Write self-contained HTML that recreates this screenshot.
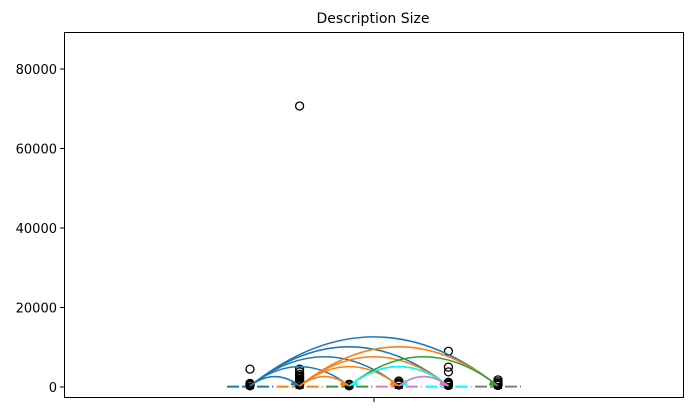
<!DOCTYPE html>
<html><head><meta charset="utf-8"><style>
body{margin:0;background:#fff;font-family:"DejaVu Sans","Liberation Sans",sans-serif}
</style></head><body>
<svg id="c" width="693" height="416" xmlns="http://www.w3.org/2000/svg">
<text x="373" y="23" text-anchor="middle" font-size="14" fill="#000">Description Size</text>
<g id="g"></g>
<rect x="64.5" y="32.5" width="619" height="365" fill="none" stroke="#000" stroke-width="1"/>
</svg>
<script>
const categories=["A","B","C","D","E","F"];
const colors=["#1f77b4","#ff7f0e","#2ca02c","#e377c2","#00ffff","#7f7f7f"];
const medians=[100,100,100,100,100,100];
const fliers=[[4500,900,700,500,300],[70700,4500,3800,3200,2800,2400,2000,1700,1400,1100,900,700,500],[700,500,300],[1500,1100,800,500],[9000,5000,3800,1200,900,600,400],[1800,1300,900,600,400]];
const arcFrom=[0,0,0,0,0,1,1,1,1,2,2,4,4,3];
const arcTo=[1,2,3,4,5,2,3,4,5,4,5,2,3,4];
const yTicks=[0,20000,40000,60000,80000];
const NS="http://www.w3.org/2000/svg",g=document.getElementById('g');
const y0=387,pxPer=(387-69)/80000;
const y=v=>y0-v*pxPer;
const x=i=>250+i*49.6;
function mk(t,a,p){const e=document.createElementNS(NS,t);for(const k in a)e.setAttribute(k,a[k]);(p||g).appendChild(e);return e;}
yTicks.forEach(t=>{
 const l=mk('line',{x1:60,x2:64,y1:y(t),y2:y(t),stroke:'#000'});
 
 
 const tx=mk('text',{x:57,y:y(t)+5,'text-anchor':'end','font-size':13});
 tx.textContent=t;
 
 
});
const xt=mk('line',{x1:374,x2:374,y1:397,y2:402,stroke:'#000'});


categories.forEach((c,i)=>{
 const l=mk('line',{x1:x(i)-23,x2:x(i)+23,y1:y(medians[i]),y2:y(medians[i]),stroke:colors[i],'stroke-width':2,'stroke-dasharray':'12 3'});
 
 
 mk('rect',{x:x(i)-4,y:y(0)-4,width:8,height:6,fill:'#000'});
 fliers[i].forEach(v=>{
  const f=mk('circle',{cx:x(i),cy:y(v),r:4,fill:'none',stroke:'#000','stroke-width':1.3});
  
  
 });
});
arcFrom.forEach((a,k)=>{
 const b=arcTo[k],x1=x(a),x2=x(b),span=Math.abs(x2-x1);
 const h=span*0.2,cy=y0-2*h;
 const p=mk('path',{d:`M${x1},${y0-1} Q${(x1+x2)/2},${cy} ${x2},${y0-1}`,fill:'none',stroke:colors[a],'stroke-width':1.5});
 
 
 const d=x2>x1?-1:1;
 mk('path',{d:`M${x2},${y0-1} l${d*7},-6 l${d*2},5 z`,fill:colors[a]});
});
</script>
</body></html>
